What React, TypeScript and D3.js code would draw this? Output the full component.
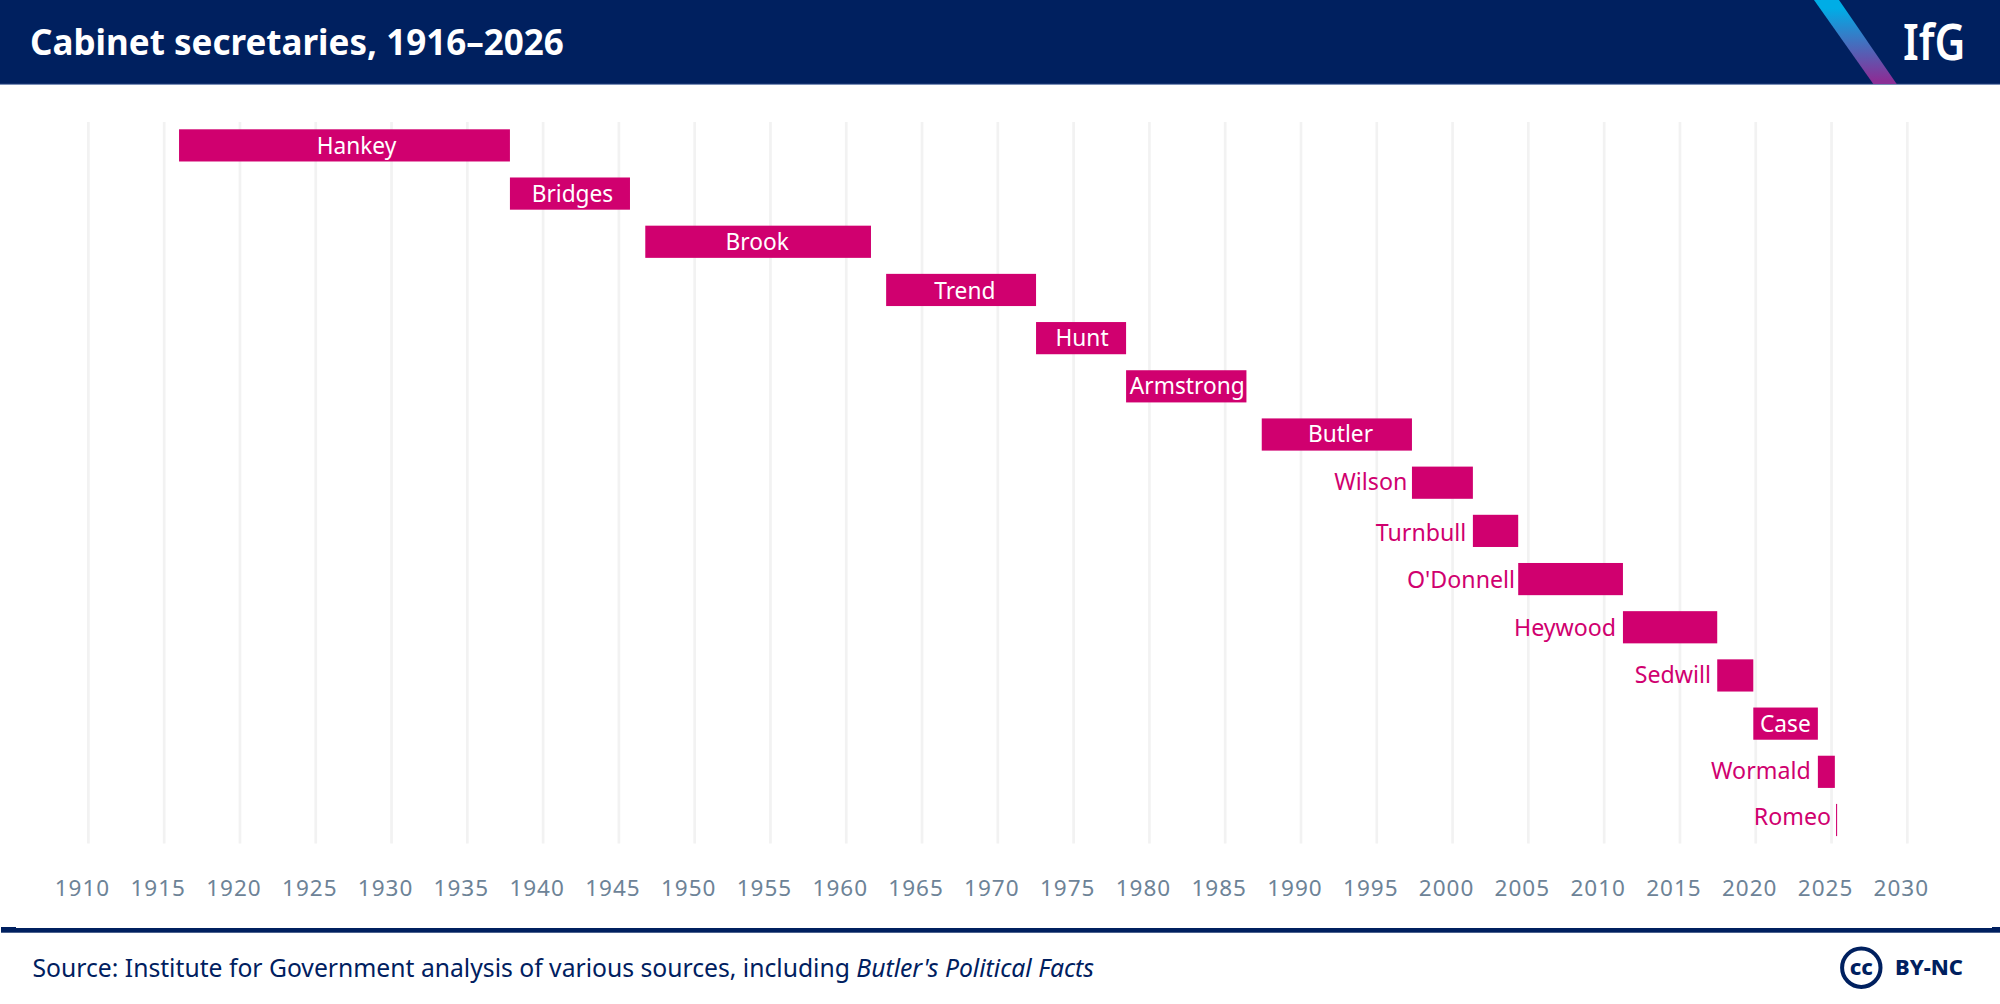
import React from "react";
import * as d3 from "d3";

const names = ["Hankey","Bridges","Brook","Trend","Hunt","Armstrong","Butler","Wilson","Turnbull","O'Donnell","Heywood","Sedwill","Case","Wormald","Romeo"];
const starts = [1915.98,1937.81,1946.74,1962.63,1972.52,1978.46,1987.41,1997.32,2001.34,2004.33,2011.24,2017.46,2019.84,2024.1,2025.3];
const ends = [1937.81,1945.73,1961.63,1972.52,1978.46,1986.4,1997.32,2001.34,2004.33,2011.24,2017.46,2019.84,2024.1,2025.22,2025.37];
const insideLabel = [true,true,true,true,true,true,true,false,false,false,false,false,true,false,false];
const years = d3.range(1910,2031,5);

// Label layout (offset from the default anchor / bar centre line)
const labelDx = [12,2.5,-1,3.7,1,1,3.7,-4.7,-6.6,-3.2,-6.8,-6.3,-0.2,-7.2,-5];
const labelDy = [8.5,8.7,8,8.6,8,7.8,7,7,10,8.7,8.7,7.7,8,7.6,5];

const W=2000,H=1004;
const NAVY="#00205f", PINK="#d0006f", FONT="'Noto Sans', sans-serif";

export default function App(){
  const x=d3.scaleLinear().domain([1910,2030]).range([88.4,1907.3]);
  const y=d3.scaleBand<string>().domain(names).range([129.3,836.1]).paddingInner(0.332).paddingOuter(0);
  return (
    <svg width={W} height={H} viewBox={`0 0 ${W} ${H}`} style={{position:"absolute",left:0,top:0,background:"#fff"}} fontFamily={FONT}>
      <defs>
        <linearGradient id="g" x1="0" y1="0" x2="0" y2="1">
          <stop offset="0.1" stopColor="#00ade6"/>
          <stop offset="0.95" stopColor="#8a2f96"/>
        </linearGradient>
      </defs>
      <rect x={0} y={0} width={W} height={84} fill={NAVY}/>
      <line x1={0} x2={W} y1={84.3} y2={84.3} stroke="#5a73a5" strokeWidth={1}/>
      <polygon points="1814,0 1839,0 1896.7,84 1873.3,84" fill="url(#g)"/>
      <text x={30} y={55} fontSize={35} fontWeight={700} fill="#fff">Cabinet secretaries, 1916–2026</text>
      <text x={1903} y={60} fontSize={50} fontWeight={600} fill="#fff" textLength={62.5} lengthAdjust="spacingAndGlyphs">IfG</text>
      {years.map(v=>(
        <line key={v} x1={x(v)} x2={x(v)} y1={122} y2={843.5} stroke="#f2f2f2" strokeWidth={2.7}/>
      ))}
      {names.map((n,i)=>{
        const bx=x(starts[i]),bw=x(ends[i])-bx,by=y(n)!,bh=y.bandwidth();
        const ly=by+bh/2+labelDy[i];
        return <g key={n}>
          <rect x={bx} y={by} width={bw} height={bh} fill={PINK}/>
          {insideLabel[i]
            ? <text x={bx+bw/2+labelDx[i]} y={ly} textAnchor="middle" fontSize={22.7} fill="#fff">{n}</text>
            : <text x={bx+labelDx[i]} y={ly} textAnchor="end" fontSize={23.2} fill={PINK}>{n}</text>}
        </g>;
      })}
      {years.map(v=>(
        <text key={v} x={x(v)-6} y={896} textAnchor="middle" fontSize={22.5} letterSpacing={1} fill="#6d8397">{v}</text>
      ))}
      <rect x={1} y={928} width={1999} height={4.7} fill={NAVY}/>
      <rect x={1} y={927} width={15} height={1} fill={NAVY}/>
      <rect x={1992} y={927} width={8} height={1} fill={NAVY}/>
      <text x={32.5} y={976.7} fontSize={24.7} fill={NAVY}>Source: Institute for Government analysis of various sources, including <tspan fontStyle="italic">Butler's Political Facts</tspan></text>
      <circle cx={1861.3} cy={967.7} r={19.2} fill="none" stroke={NAVY} strokeWidth={4}/>
      <text x={1861.3} y={975} textAnchor="middle" fontSize={22} fontWeight={800} fill={NAVY}>cc</text>
      <text x={1895} y={975} fontSize={21.5} fontWeight={800} fill={NAVY} textLength={68} lengthAdjust="spacingAndGlyphs">BY-NC</text>
    </svg>
  );
}
